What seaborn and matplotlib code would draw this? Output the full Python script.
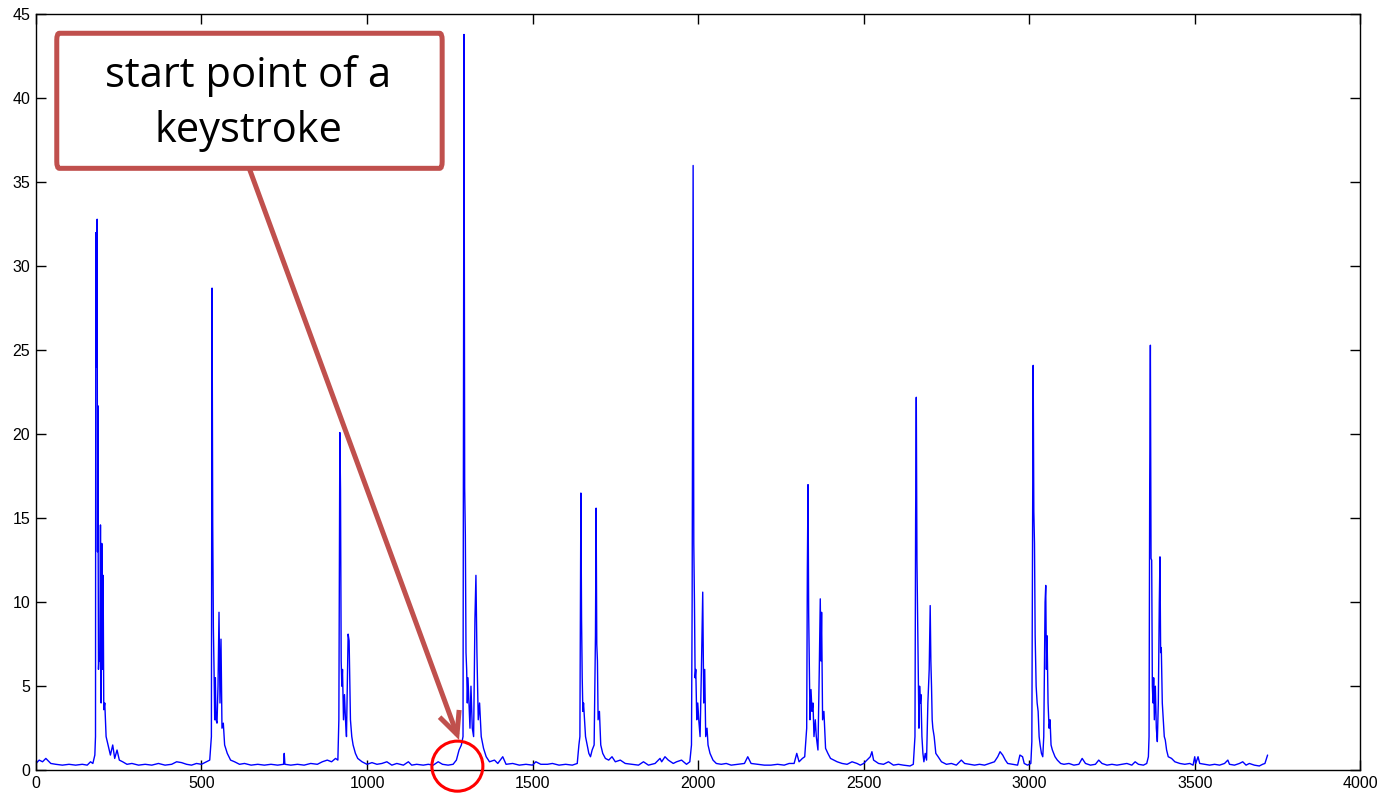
import pandas as pd
import matplotlib.pyplot as plt
import seaborn as sns
from matplotlib.patches import Ellipse, FancyArrowPatch, FancyBboxPatch

# Signal: sample index and amplitude
sample = [
    0, 10, 20, 30, 45, 60, 80, 100, 120, 140, 155, 165, 172, 178,
    180, 181, 183, 185, 186, 187, 189, 191, 193, 195, 197, 199, 201, 203, 205, 208,
    212, 218, 225, 232, 238, 245, 252, 262, 275, 290, 310, 330, 350, 370, 390, 410,
    425, 440, 455, 470, 485, 500, 515, 525,
    530, 532, 534, 536, 538, 540, 542, 544, 547, 550, 553, 556, 559, 562, 566, 570,
    578, 588, 600, 615, 630, 650, 670, 690, 710, 730, 748, 750, 752, 770, 790, 810,
    830, 850, 865, 880, 893, 905, 912,
    915, 918, 920, 922, 924, 926, 929, 932, 935, 938, 943, 946, 950, 954, 958, 965,
    972, 985, 1000, 1015, 1030, 1045, 1060, 1075, 1090, 1110, 1125, 1135, 1150, 1170,
    1185, 1200, 1215, 1228, 1245, 1260, 1270, 1278, 1285, 1290,
    1293, 1295, 1297, 1299, 1301, 1303, 1305, 1308, 1311, 1314, 1318, 1322, 1326, 1329,
    1332, 1336, 1340, 1345, 1352, 1360, 1370, 1385, 1395, 1410, 1420, 1440, 1460, 1480,
    1500, 1510, 1525, 1545, 1560, 1580, 1600, 1620, 1635, 1640, 1643,
    1646, 1648, 1650, 1652, 1654, 1657, 1660, 1665, 1670, 1675, 1680, 1686, 1690, 1692,
    1694, 1696, 1698, 1702, 1706, 1712, 1720, 1730, 1740, 1750, 1765, 1780, 1800, 1820,
    1835, 1850, 1870, 1885, 1890, 1900, 1910, 1925, 1935, 1950, 1965, 1975, 1980,
    1982, 1985, 1987, 1989, 1991, 1993, 1996, 1999, 2002, 2006, 2010, 2014, 2017, 2020,
    2023, 2027, 2030, 2036, 2045, 2055, 2070, 2085, 2100, 2120, 2140, 2150, 2160, 2180,
    2200, 2220, 2240, 2260, 2275, 2290, 2298, 2305, 2315, 2322, 2328,
    2330, 2332, 2334, 2336, 2338, 2341, 2344, 2347, 2350, 2354, 2357, 2362, 2366, 2369,
    2371, 2373, 2376, 2380, 2385, 2392, 2400, 2410, 2420, 2435, 2450, 2465, 2480, 2490,
    2500, 2510, 2520, 2525, 2530, 2545, 2560, 2575, 2590, 2605, 2620, 2640, 2650, 2655,
    2657, 2659, 2661, 2663, 2665, 2667, 2669, 2671, 2673, 2676, 2679, 2682, 2686, 2690,
    2694, 2698, 2701, 2703, 2705, 2707, 2709, 2713, 2718, 2725, 2735, 2750, 2765, 2780,
    2795, 2805, 2820, 2835, 2850, 2865, 2880, 2895, 2905, 2912, 2920, 2928, 2935, 2950,
    2965, 2972, 2980, 2985, 2995, 3005, 3008,
    3010, 3012, 3014, 3016, 3018, 3021, 3024, 3027, 3030, 3033, 3037, 3041, 3044, 3048,
    3050, 3052, 3054, 3057, 3060, 3063, 3066, 3070, 3078, 3085, 3095, 3105, 3120, 3135,
    3150, 3160, 3170, 3185, 3200, 3210, 3220, 3235, 3250, 3265, 3280, 3295, 3310, 3320,
    3330, 3345, 3355, 3360, 3362,
    3364, 3366, 3368, 3370, 3372, 3374, 3376, 3378, 3381, 3384, 3387, 3390, 3393, 3395,
    3397, 3399, 3402, 3405, 3408, 3411, 3415, 3420, 3430, 3440, 3455, 3470, 3485, 3495,
    3500, 3503, 3510, 3515, 3530, 3545, 3560, 3575, 3590, 3600, 3605, 3620, 3635, 3645,
    3655, 3665, 3680, 3695, 3705, 3712, 3720,
]
amplitude = [
    0.4, 0.6, 0.5, 0.7, 0.4, 0.35, 0.3, 0.35, 0.3, 0.35, 0.3, 0.5, 0.4, 0.9,
    2, 32, 24, 32.8, 13, 21.7, 6, 7, 6.5, 14.6, 4, 13.5, 6, 11.6, 3.6, 4,
    2, 1.5, 0.9, 1.5, 0.7, 1.2, 0.6, 0.5, 0.35, 0.4, 0.3, 0.35, 0.3, 0.4, 0.3, 0.35,
    0.5, 0.45, 0.35, 0.3, 0.4, 0.35, 0.5, 0.6,
    2, 28.7, 14.7, 8.5, 6, 3, 5.5, 3, 2.8, 5, 9.4, 4, 7.8, 2.5, 2.8, 1.5,
    1, 0.6, 0.5, 0.35, 0.4, 0.3, 0.35, 0.3, 0.35, 0.3, 0.35, 1.0, 0.35, 0.3, 0.35, 0.3,
    0.4, 0.35, 0.5, 0.6, 0.5, 0.7, 0.6,
    3, 20.1, 16.7, 6.5, 5, 6, 3, 4.5, 3, 2, 8.1, 7.7, 3, 2, 1.5, 1,
    0.7, 0.5, 0.35, 0.45, 0.35, 0.4, 0.5, 0.3, 0.4, 0.3, 0.5, 0.3, 0.35, 0.3,
    0.35, 0.3, 0.5, 0.35, 0.3, 0.35, 0.6, 1.2, 1.5, 2.0,
    43.8, 16.8, 14, 7, 6, 4, 5.5, 4, 2.5, 5, 2.5, 2.0, 9, 11.6,
    7, 3, 4, 2, 1.3, 0.8, 0.5, 0.6, 0.4, 0.8, 0.35, 0.4, 0.3, 0.35,
    0.3, 0.5, 0.35, 0.35, 0.4, 0.3, 0.35, 0.3, 0.4, 1.5, 2,
    16.5, 9, 5.5, 3.5, 4, 3, 2, 1.5, 1, 0.8, 1.2, 1.5, 8, 15.6,
    7.5, 6.5, 3, 3.5, 1.5, 1, 0.7, 0.6, 0.8, 0.5, 0.6, 0.4, 0.35, 0.3,
    0.5, 0.3, 0.4, 0.7, 0.5, 0.8, 0.6, 0.4, 0.5, 0.6, 0.35, 0.5, 1.5,
    10, 36, 13.5, 10, 5.5, 6, 3, 4, 3, 2, 6, 10.6, 4, 6,
    2, 2.5, 1.5, 1, 0.6, 0.4, 0.35, 0.4, 0.3, 0.35, 0.4, 0.8, 0.4, 0.35,
    0.3, 0.3, 0.35, 0.3, 0.4, 0.4, 1.0, 0.5, 0.7, 0.8, 2.5,
    12, 17, 9.3, 6, 3, 4.8, 3.5, 4, 2, 3, 2, 1.2, 6, 10.2,
    6.5, 9.4, 3, 3.5, 1.3, 1, 0.7, 0.6, 0.5, 0.4, 0.35, 0.5, 0.4, 0.3,
    0.4, 0.6, 0.8, 1.1, 0.6, 0.4, 0.35, 0.5, 0.3, 0.35, 0.3, 0.25, 0.35, 2,
    15, 22.2, 12.5, 9, 5, 2.5, 5, 4, 4.5, 2, 1, 0.5, 1, 0.6,
    4, 6, 9.8, 6.5, 5, 3, 2.5, 2, 1, 0.8, 0.5, 0.35, 0.4, 0.3,
    0.6, 0.4, 0.35, 0.3, 0.35, 0.3, 0.4, 0.5, 0.8, 1.1, 0.9, 0.6, 0.4, 0.35,
    0.3, 0.9, 0.8, 0.4, 0.3, 0.4, 1.7,
    13, 24.1, 15.4, 13.5, 8, 5, 4, 3.5, 2, 1.5, 1, 0.8, 2, 10,
    11, 6, 8, 4, 2.5, 3, 1.5, 1.2, 0.8, 0.6, 0.4, 0.35, 0.4, 0.3,
    0.35, 0.7, 0.4, 0.3, 0.35, 0.6, 0.4, 0.3, 0.35, 0.3, 0.35, 0.4, 0.3, 0.5,
    0.35, 0.3, 0.4, 0.8, 2,
    17, 25.3, 12.6, 12.5, 5, 4, 5.5, 3, 5, 2.5, 1.7, 4, 10, 12.7,
    7, 7.3, 4, 3, 2, 1.8, 1.2, 0.8, 0.7, 0.5, 0.4, 0.35, 0.4, 0.3,
    0.8, 0.4, 0.8, 0.4, 0.35, 0.3, 0.35, 0.3, 0.4, 0.6, 0.35, 0.3, 0.4, 0.5,
    0.3, 0.4, 0.3, 0.25, 0.35, 0.4, 0.9,
]

x_ticks = [0, 500, 1000, 1500, 2000, 2500, 3000, 3500, 4000]
y_ticks = [0, 5, 10, 15, 20, 25, 30, 35, 40, 45]
callout_lines = ["start point of a", "keystroke"]

df = pd.DataFrame({"sample": sample, "amplitude": amplitude})

sns.set_theme(style="white")
plt.rcParams["font.family"] = ["Liberation Sans", "DejaVu Sans"]

fig = plt.figure(figsize=(13.81, 7.94), dpi=100)
ax = fig.add_axes([0.026, 0.030, 0.959, 0.952])

sns.lineplot(data=df, x="sample", y="amplitude", ax=ax, color="#0000ff",
             linewidth=1.0, estimator=None)

ax.set_xlim(0, 4000)
ax.set_ylim(0, 45)
ax.set_xticks(x_ticks)
ax.set_yticks(y_ticks)
ax.set_xlabel("")
ax.set_ylabel("")
ax.tick_params(direction="in", length=7, width=1, labelsize=11.5, colors="black",
               top=True, right=True, bottom=True, left=True, pad=4)
for s in ax.spines.values():
    s.set_color("black")
    s.set_linewidth(1.0)

red = "#c0504d"

# callout arrow
arrow = FancyArrowPatch((643, 35.9), (1278, 1.8),
                        arrowstyle="->,head_length=16,head_width=7.5",
                        color=red, linewidth=3.6, mutation_scale=1, zorder=4,
                        shrinkA=0, shrinkB=0, capstyle="butt", joinstyle="miter")
ax.add_patch(arrow)

# callout box
box = FancyBboxPatch((63, 35.83), 1164, 8.04, boxstyle="round,pad=0,rounding_size=8",
                     facecolor="white", edgecolor=red, linewidth=3.6, zorder=5,
                     mutation_aspect=0.05)
ax.add_patch(box)
ax.text(642, 40.65, callout_lines[0], ha="center", va="baseline", fontsize=30,
        family=["Open Sans", "DejaVu Sans"], color="black", zorder=6)
ax.text(642, 37.38, callout_lines[1], ha="center", va="baseline", fontsize=30,
        family=["Open Sans", "DejaVu Sans"], color="black", zorder=6)

# circle around the start point
circ = Ellipse((1273, 0.24), width=154, height=2.98, fill=False, edgecolor="#ff0000",
               linewidth=2.2, clip_on=False, zorder=6)
ax.add_patch(circ)

fig.savefig("out.png", dpi=100)
